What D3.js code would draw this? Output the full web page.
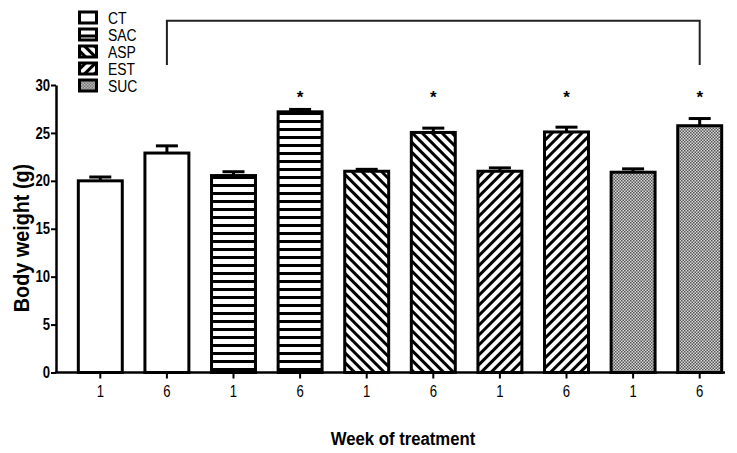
<!DOCTYPE html>
<html>
<head>
<meta charset="utf-8">
<script src="https://cdn.jsdelivr.net/npm/d3@7"></script>
<style>
  body { margin: 0; background: #fff; }
  svg { display: block; font-family: "Liberation Sans", Arial, sans-serif; }
</style>
</head>
<body>
<svg id="chart" width="737" height="453"></svg>
<script>
// data
const groups = ['CT', 'CT', 'SAC', 'SAC', 'ASP', 'ASP', 'EST', 'EST', 'SUC', 'SUC'];
const weeks = ['1', '6', '1', '6', '1', '6', '1', '6', '1', '6'];
const means = [20.0, 22.9, 20.55, 27.2, 21.0, 25.05, 21.0, 25.1, 20.9, 25.75];
const sems = [0.4, 0.75, 0.4, 0.25, 0.2, 0.45, 0.35, 0.5, 0.35, 0.75];
const significant = [false, false, false, true, false, true, false, true, false, true];
const legendLabels = ['CT', 'SAC', 'ASP', 'EST', 'SUC'];
const yTicks = [0, 5, 10, 15, 20, 25, 30];
const starLevel = 29.2;
const bracket = { from: 1, to: 9, top: 36.7, bottom: 32.1 };

const NARROW = 0.82; // the original uses a condensed face

const svg = d3.select('#chart');

// scales
const x = d3.scaleBand()
  .domain(d3.range(means.length))
  .range([67, 733])
  .paddingInner(0.34)
  .paddingOuter(0.17);

const y = d3.scaleLinear().domain([0, 30]).range([372.5, 85]);

// fill patterns
const defs = svg.append('defs');
const fillFor = {};

fillFor.CT = '#fff';

const sac = defs.append('pattern').attr('id', 'p-sac')
  .attr('patternUnits', 'userSpaceOnUse').attr('width', 8).attr('height', 8);
sac.append('rect').attr('width', 8).attr('height', 8).attr('fill', '#fff');
sac.append('rect').attr('y', 0).attr('width', 8).attr('height', 3).attr('fill', '#000');
fillFor.SAC = 'url(#p-sac)';

function diag(id, angle) {
  const p = defs.append('pattern').attr('id', id)
    .attr('patternUnits', 'userSpaceOnUse').attr('width', 7).attr('height', 7)
    .attr('patternTransform', `rotate(${angle})`);
  p.append('rect').attr('width', 7).attr('height', 7).attr('fill', '#fff');
  p.append('rect').attr('width', 3).attr('height', 7).attr('fill', '#000');
  return `url(#${id})`;
}
fillFor.ASP = diag('p-asp', -45);
fillFor.EST = diag('p-est', 45);

const suc = defs.append('pattern').attr('id', 'p-suc')
  .attr('patternUnits', 'userSpaceOnUse').attr('width', 3).attr('height', 3);
suc.append('rect').attr('width', 3).attr('height', 3).attr('fill', '#d8d8d8');
suc.append('rect').attr('width', 1.5).attr('height', 1.5).attr('fill', '#555');
suc.append('rect').attr('x', 1.5).attr('y', 1.5).attr('width', 1.5).attr('height', 1.5).attr('fill', '#555');
fillFor.SUC = 'url(#p-suc)';

// bars
const idx = d3.range(means.length);
svg.append('g').selectAll('rect')
  .data(idx)
  .join('rect')
  .attr('x', i => x(i))
  .attr('y', i => y(means[i]))
  .attr('width', x.bandwidth())
  .attr('height', i => y(0) - y(means[i]))
  .attr('fill', i => fillFor[groups[i]])
  .attr('stroke', '#000')
  .attr('stroke-width', 3);

// error bars (upper only)
const err = svg.append('g').attr('stroke', '#000').attr('stroke-width', 3);
idx.forEach(i => {
  const cx = x(i) + x.bandwidth() / 2;
  err.append('line')
    .attr('x1', cx).attr('x2', cx)
    .attr('y1', y(means[i])).attr('y2', y(means[i] + sems[i]));
  err.append('line')
    .attr('x1', cx - 11).attr('x2', cx + 11)
    .attr('y1', y(means[i] + sems[i])).attr('y2', y(means[i] + sems[i]));
});

// stars
svg.append('g').selectAll('text')
  .data(idx.filter(i => significant[i]))
  .join('text')
  .attr('x', i => x(i) + x.bandwidth() / 2)
  .attr('y', y(starLevel))
  .attr('dy', '0.6em')
  .attr('text-anchor', 'middle')
  .attr('font-size', 17)
  .attr('font-weight', 'bold')
  .text('*');

// comparison bracket
const bx1 = x(bracket.from) + x.bandwidth() / 2;
const bx2 = x(bracket.to) + x.bandwidth() / 2;
svg.append('path')
  .attr('d', `M${bx1},${y(bracket.bottom)}V${y(bracket.top)}H${bx2}V${y(bracket.bottom)}`)
  .attr('fill', 'none')
  .attr('stroke', '#222')
  .attr('stroke-width', 2);

// y axis
const yAxis = svg.append('g')
  .attr('transform', 'translate(56,0)')
  .call(d3.axisLeft(y).tickValues(yTicks).tickSize(5).tickSizeOuter(0));
yAxis.select('.domain').attr('stroke-width', 2.5);
yAxis.selectAll('.tick line').attr('stroke-width', 2);
yAxis.selectAll('.tick text')
  .attr('font-size', 16)
  .attr('font-weight', 'bold')
  .attr('font-family', 'Liberation Sans, Arial, sans-serif')
  .attr('x', -6 / NARROW)
  .attr('transform', `scale(${NARROW},1)`)
  .attr('fill', '#000');

// x axis
svg.append('line')
  .attr('x1', 55).attr('x2', 725)
  .attr('y1', y(0)).attr('y2', y(0))
  .attr('stroke', '#000').attr('stroke-width', 2.5);

const xAxis = svg.append('g')
  .attr('transform', `translate(0,${y(0)})`)
  .call(d3.axisBottom(x).tickFormat(i => weeks[i]).tickSize(6).tickSizeOuter(0));
xAxis.select('.domain').remove();
xAxis.selectAll('.tick line').attr('stroke-width', 2);
xAxis.selectAll('.tick text')
  .attr('font-size', 16)
  .attr('font-family', 'Liberation Sans, Arial, sans-serif')
  .attr('y', 13)
  .attr('transform', `scale(${NARROW},1)`)
  .attr('fill', '#000');

// axis titles
svg.append('text')
  .attr('transform', 'translate(29,238) rotate(-90) scale(0.9,1)')
  .attr('text-anchor', 'middle')
  .attr('font-size', 22)
  .attr('font-weight', 'bold')
  .text('Body weight (g)');

svg.append('text')
  .attr('transform', 'translate(403,445) scale(0.88,1)')
  .attr('text-anchor', 'middle')
  .attr('font-size', 19)
  .attr('font-weight', 'bold')
  .text('Week of treatment');

// legend
const legend = svg.append('g').selectAll('g')
  .data(legendLabels)
  .join('g')
  .attr('transform', (d, i) => `translate(78,${17.5 + i * 17})`);
legend.append('rect')
  .attr('x', 1.5).attr('y', -5.5)
  .attr('width', 17).attr('height', 11)
  .attr('fill', d => fillFor[d])
  .attr('stroke', '#000')
  .attr('stroke-width', 3);
legend.append('text')
  .attr('transform', `translate(30,0) scale(${NARROW},1)`)
  .attr('dy', '0.36em')
  .attr('font-size', 17)
  .text(d => d);
</script>
</body>
</html>
